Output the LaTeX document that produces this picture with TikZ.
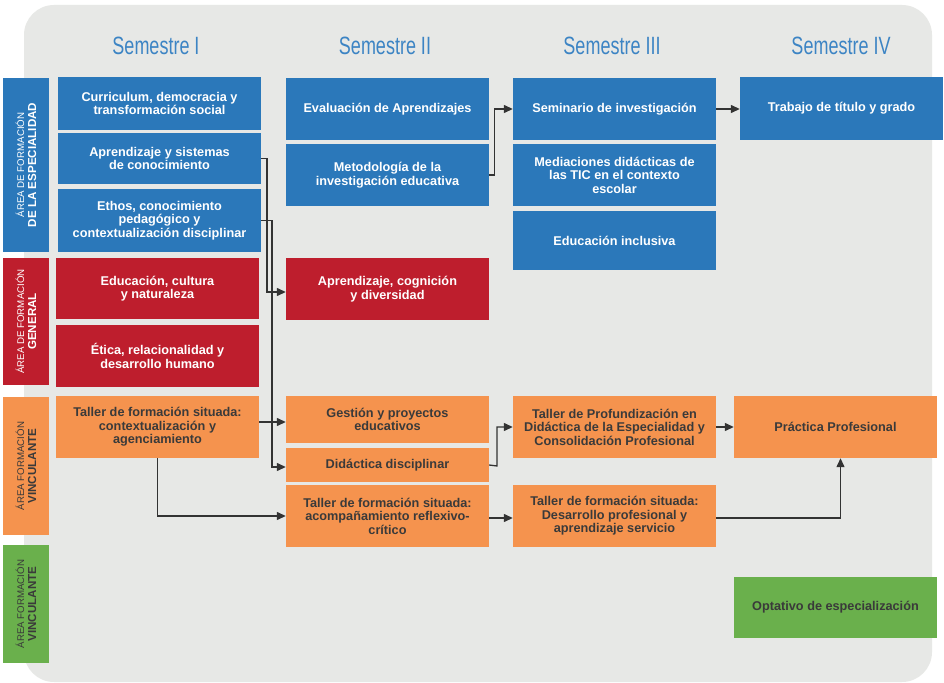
\documentclass[tikz,border=0pt]{standalone}
\usepackage{fontspec}
\setmainfont{Liberation Sans}
\newfontfamily\semfont[FakeStretch=0.72]{Liberation Sans}
\usetikzlibrary{arrows.meta,calc}
\definecolor{cblue}{HTML}{2B78BA}
\definecolor{cred}{HTML}{BE1E2D}
\definecolor{corange}{HTML}{F5934E}
\definecolor{cgreen}{HTML}{6AB04C}
\definecolor{cpanel}{HTML}{E7E8E6}
\definecolor{ctext}{HTML}{3A3A3A}
\definecolor{csem}{HTML}{3C84C4}
\definecolor{cline}{HTML}{333333}
\newcommand\boxfont{\fontsize{12.7}{13.5}\selectfont\bfseries}
\newcommand\lblA{\fontsize{9.7}{13}\selectfont}
\newcommand\lblB{\fontsize{11.6}{13}\selectfont\bfseries}
\tikzset{
  box/.style={rectangle, inner sep=0pt, align=center, font=\boxfont},
  bluebox/.style={box, fill=cblue, text=white},
  redbox/.style={box, fill=cred, text=white},
  orangebox/.style={box, fill=corange, text=ctext},
  greenbox/.style={box, fill=cgreen, text=ctext},
  areabox/.style={rectangle, inner sep=0pt, minimum width=46pt, rotate=90, align=center},
  semtitle/.style={font=\semfont\fontsize{25}{28}\selectfont, text=csem, inner sep=0pt},
  conn/.style={draw=cline, line width=1.3pt, -{Triangle[length=9pt,width=8pt]}},
}
\begin{document}
\begin{tikzpicture}[x=1pt,y=-1pt]
\useasboundingbox (0,0) rectangle (944,682);
\fill[white] (0,0) rectangle (944,682);
\fill[cpanel, rounded corners=30pt] (24,5) rectangle (932,682);

% semester titles
\node[semtitle] (s1) at (156,46) {Semestre I};
\node[semtitle] (s2) at (385,46) {Semestre II};
\node[semtitle] (s3) at (612,46) {Semestre III};
\node[semtitle] (s4) at (841,46) {Semestre IV};

% area labels (rotated: minimum width becomes vertical extent after rotation)
\node[areabox, fill=cblue, text=white, minimum width=174pt, minimum height=46pt] (a1) at (26,165)
  {{\lblA ÁREA DE FORMACIÓN}\\{\lblB DE LA ESPECIALIDAD}};
\node[areabox, fill=cred, text=white, minimum width=127pt, minimum height=46pt] (a2) at (26,321.5)
  {{\lblA ÁREA DE FORMACIÓN}\\{\lblB GENERAL}};
\node[areabox, fill=corange, text=ctext, minimum width=138pt, minimum height=46pt] (a3) at (26,466)
  {{\lblA ÁREA FORMACIÓN}\\{\lblB VINCULANTE}};
\node[areabox, fill=cgreen, text=ctext, minimum width=118pt, minimum height=46pt] (a4) at (26,604)
  {{\lblA ÁREA FORMACIÓN}\\{\lblB VINCULANTE}};

% Semester I
\node[bluebox, minimum width=203pt, minimum height=53pt] (cur) at (159.5,103.5) {Curriculum, democracia y\\transformación social};
\node[bluebox, minimum width=203pt, minimum height=51pt] (apr) at (159.5,158.5) {Aprendizaje y sistemas\\de conocimiento};
\node[bluebox, minimum width=203pt, minimum height=63pt] (eth) at (159.5,220.5) {Ethos, conocimiento\\pedagógico y\\contextualización disciplinar};
\node[redbox, minimum width=203pt, minimum height=61pt] (edu) at (157.5,288.5) {Educación, cultura\\y naturaleza};
\node[redbox, minimum width=203pt, minimum height=62pt] (eti) at (157.5,356) {Ética, relacionalidad y\\desarrollo humano};
\node[orangebox, minimum width=203pt, minimum height=62pt] (tal1) at (157.5,427) {Taller de formación situada:\\contextualización y\\agenciamiento};

% Semester II
\node[bluebox, minimum width=203pt, minimum height=62pt] (eva) at (387.5,109) {Evaluación de Aprendizajes};
\node[bluebox, minimum width=203pt, minimum height=62pt] (met) at (387.5,175) {Metodología de la\\investigación educativa};
\node[redbox, minimum width=203pt, minimum height=62pt] (acd) at (387.5,289) {Aprendizaje, cognición\\y diversidad};
\node[orangebox, minimum width=203pt, minimum height=47pt] (ges) at (387.5,419.5) {Gestión y proyectos\\educativos};
\node[orangebox, minimum width=203pt, minimum height=34pt] (did) at (387.5,465) {Didáctica disciplinar};
\node[orangebox, minimum width=203pt, minimum height=62pt] (tal2) at (387.5,516) {Taller de formación situada:\\acompañamiento reflexivo-\\crítico};

% Semester III
\node[bluebox, minimum width=203pt, minimum height=62pt] (sem) at (614.5,109) {Seminario de investigación};
\node[bluebox, minimum width=203pt, minimum height=62pt] (med) at (614.5,175) {Mediaciones didácticas de\\las TIC en el contexto\\escolar};
\node[bluebox, minimum width=203pt, minimum height=59pt] (inc) at (614.5,240.5) {Educación inclusiva};
\node[orangebox, minimum width=203pt, minimum height=62pt] (tpr) at (614.5,427) {Taller de Profundización en\\Didáctica de la Especialidad y\\Consolidación Profesional};
\node[orangebox, minimum width=203pt, minimum height=62pt] (tde) at (614.5,516) {Taller de formación situada:\\Desarrollo profesional y\\aprendizaje servicio};

% Semester IV
\node[bluebox, minimum width=203pt, minimum height=63pt] (tra) at (841.5,108.5) {Trabajo de título y grado};
\node[orangebox, minimum width=203pt, minimum height=62pt] (pra) at (835.5,427) {Práctica Profesional};
\node[greenbox, minimum width=203pt, minimum height=61pt] (opt) at (835.5,607.5) {Optativo de especialización};

% connectors
\draw[conn] (apr.east) -- (267,158.5) |- ($(acd.west)+(0,3)$);
\draw[conn] (eth.east) -- (272,220.5) |- ($(did.west)+(0,2)$);
\draw[conn] (tal1.east |- 0,422) -- (ges.west |- 0,422);
\draw[conn] (tal1.south) |- (tal2.west);
\draw[conn] (met.east) -- (494.5,175) |- (sem.west);
\draw[conn] (sem.east) -- (sem.east -| tra.west);
\draw[conn] (did.east) -- (497,466) |- (tpr.west);
\draw[conn] (tal2.east |- 0,518) -- (tde.west |- 0,518);
\draw[conn] (tpr.east) -- (pra.west);
\draw[conn] (tde.east |- 0,518) -| ($(pra.south)+(5,0)$);
\end{tikzpicture}
\end{document}
